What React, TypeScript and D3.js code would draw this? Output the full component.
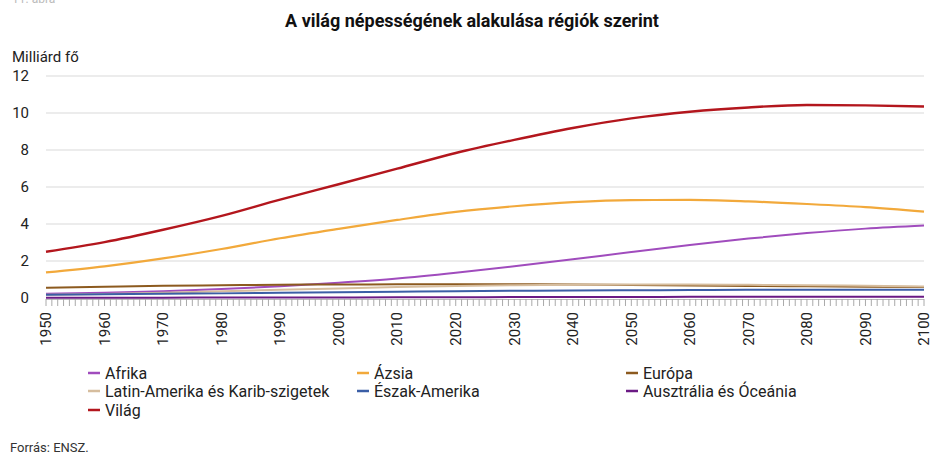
import React, { useEffect, useRef } from 'react';
import * as d3 from 'd3';

// Years (every 10 years), values in billion people
const years = [1950, 1960, 1970, 1980, 1990, 2000, 2010, 2020, 2030, 2040, 2050, 2060, 2070, 2080, 2090, 2100];

const afrika = [0.23, 0.28, 0.36, 0.48, 0.63, 0.82, 1.05, 1.36, 1.71, 2.09, 2.49, 2.87, 3.21, 3.51, 3.75, 3.92];
const azsia = [1.38, 1.71, 2.14, 2.65, 3.23, 3.74, 4.22, 4.66, 4.96, 5.18, 5.29, 5.30, 5.22, 5.08, 4.91, 4.67];
const europa = [0.55, 0.61, 0.66, 0.69, 0.72, 0.73, 0.74, 0.75, 0.74, 0.73, 0.70, 0.68, 0.65, 0.63, 0.61, 0.59];
const latinAmerika = [0.17, 0.22, 0.29, 0.36, 0.44, 0.52, 0.59, 0.65, 0.69, 0.72, 0.73, 0.73, 0.71, 0.69, 0.66, 0.62];
const eszakAmerika = [0.17, 0.20, 0.23, 0.25, 0.28, 0.31, 0.34, 0.37, 0.39, 0.41, 0.42, 0.43, 0.44, 0.44, 0.45, 0.45];
const oceania = [0.013, 0.016, 0.02, 0.023, 0.027, 0.031, 0.037, 0.043, 0.048, 0.053, 0.058, 0.062, 0.065, 0.068, 0.07, 0.072];
const vilag = [2.5, 3.02, 3.69, 4.44, 5.32, 6.15, 6.99, 7.84, 8.55, 9.19, 9.71, 10.07, 10.3, 10.43, 10.41, 10.35];

const seriesNames = ['Afrika', 'Ázsia', 'Európa', 'Latin-Amerika és Karib-szigetek', 'Észak-Amerika', 'Ausztrália és Óceánia', 'Világ'];
const seriesValues = [afrika, azsia, europa, latinAmerika, eszakAmerika, oceania, vilag];
const seriesColors = ['#a04cbd', '#f2a93b', '#8c5a1f', '#d6bd9e', '#3b5ea6', '#6b1a84', '#b3161d'];
const seriesWidths = [2, 2.2, 2, 2, 2, 2, 2.4];

const yTicks = [0, 2, 4, 6, 8, 10, 12];
const xLabels = [1950, 1960, 1970, 1980, 1990, 2000, 2010, 2020, 2030, 2040, 2050, 2060, 2070, 2080, 2090, 2100];

const WIDTH = 945;
const HEIGHT = 456;
const FONT = 'Roboto, "Noto Sans", sans-serif';

const App = () => {
  const svgRef = useRef<SVGSVGElement | null>(null);

  useEffect(() => {
    const svg = d3.select(svgRef.current);
    svg.selectAll('*').remove();

    const x = d3.scaleLinear().domain([1950, 2100]).range([46, 924]);
    const y = d3.scaleLinear().domain([0, 12]).range([298, 76]);

    // faint cut-off caption at the very top
    svg.append('text')
      .attr('x', 12)
      .attr('y', 3)
      .attr('font-family', FONT)
      .attr('font-size', 12)
      .attr('fill', '#bbb')
      .text('11. ábra');

    // title
    svg.append('text')
      .attr('x', 472)
      .attr('y', 27)
      .attr('text-anchor', 'middle')
      .attr('font-family', FONT)
      .attr('font-size', 18)
      .attr('font-weight', 'bold')
      .attr('fill', '#111')
      .text('A világ népességének alakulása régiók szerint');

    // unit label
    svg.append('text')
      .attr('x', 12)
      .attr('y', 62)
      .attr('font-family', FONT)
      .attr('font-size', 15)
      .attr('fill', '#222')
      .text('Milliárd fő');

    // grid + y labels
    const yAxis = svg.append('g');
    yTicks.forEach(t => {
      if (t > 0) {
        yAxis.append('line')
          .attr('x1', 46)
          .attr('x2', 924)
          .attr('y1', y(t))
          .attr('y2', y(t))
          .attr('stroke', '#d9d9d9')
          .attr('stroke-width', 1);
      }
      yAxis.append('text')
        .attr('x', 29)
        .attr('y', y(t))
        .attr('dy', '0.35em')
        .attr('text-anchor', 'end')
        .attr('font-family', FONT)
        .attr('font-size', 15)
        .attr('fill', '#222')
        .text(t);
    });

    // x axis with yearly minor ticks
    const xAxis = svg.append('g');
    xAxis.append('line')
      .attr('x1', 46)
      .attr('x2', 924)
      .attr('y1', 299.5)
      .attr('y2', 299.5)
      .attr('stroke', '#bbb');
    d3.range(1950, 2101).forEach(yr => {
      xAxis.append('line')
        .attr('x1', x(yr))
        .attr('x2', x(yr))
        .attr('y1', 299)
        .attr('y2', 306)
        .attr('stroke', '#aaa')
        .attr('stroke-width', 1);
    });
    xLabels.forEach(yr => {
      xAxis.append('text')
        .attr('transform', `translate(${x(yr)},312) rotate(-90)`)
        .attr('text-anchor', 'end')
        .attr('dy', '0.35em')
        .attr('font-family', FONT)
        .attr('font-size', 15)
        .attr('fill', '#222')
        .text(yr);
    });

    // lines
    const line = d3.line<number>()
      .x((_, i) => x(years[i]))
      .y(d => y(d))
      .curve(d3.curveMonotoneX);

    seriesValues.forEach((vals, i) => {
      svg.append('path')
        .attr('d', line(vals))
        .attr('fill', 'none')
        .attr('stroke', seriesColors[i])
        .attr('stroke-width', seriesWidths[i])
        .attr('stroke-linejoin', 'round');
    });

    // legend: 3 columns
    const colX = [88, 357, 626];
    const rowY = [373, 391, 410];
    const legend = svg.append('g');
    seriesNames.forEach((name, i) => {
      const cx = colX[i % 3];
      const cy = rowY[Math.floor(i / 3)];
      legend.append('line')
        .attr('x1', cx)
        .attr('x2', cx + 12)
        .attr('y1', cy)
        .attr('y2', cy)
        .attr('stroke', seriesColors[i])
        .attr('stroke-width', 2.5);
      legend.append('text')
        .attr('x', cx + 17)
        .attr('y', cy)
        .attr('dy', '0.35em')
        .attr('font-family', FONT)
        .attr('font-size', 16)
        .attr('fill', '#222')
        .text(name);
    });

    // source
    svg.append('text')
      .attr('x', 10)
      .attr('y', 452)
      .attr('font-family', FONT)
      .attr('font-size', 13)
      .attr('fill', '#333')
      .text('Forrás: ENSZ.');
  }, []);

  return (
    <svg
      ref={svgRef}
      width={WIDTH}
      height={HEIGHT}
      style={{ position: 'absolute', left: 0, top: 0, background: '#fff' }}
    />
  );
};

export default App;
